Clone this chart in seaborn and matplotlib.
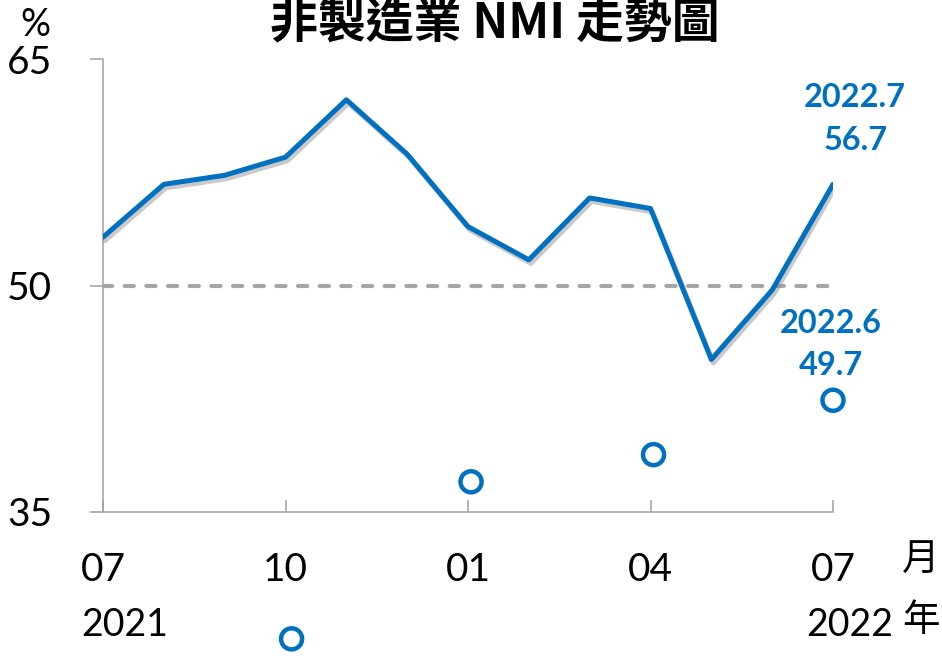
import matplotlib
matplotlib.use("Agg")
import matplotlib.pyplot as plt
import matplotlib.patheffects as pe
import seaborn as sns
import pandas as pd
import numpy as np

# ---- data ----
months = ["2021.07", "2021.08", "2021.09", "2021.10", "2021.11", "2021.12",
          "2022.01", "2022.02", "2022.03", "2022.04", "2022.05", "2022.06", "2022.07"]
nmi = [53.2, 56.7, 57.3, 58.5, 62.3, 58.7, 53.9, 51.7, 55.8, 55.1, 45.1, 49.7, 56.7]
tick_pos = [0, 3, 6, 9, 12]
tick_labels = ["07", "10", "01", "04", "07"]
year_labels = ["2021", "2022"]
circle_x = [3.1, 6.05, 9.05, 12.0]
circle_y = [26.6, 37.0, 38.8, 42.4]
threshold = 50
y_ticks = [35, 50, 65]
title = "非製造業 NMI 走勢圖"

df = pd.DataFrame({"idx": np.arange(len(months)), "NMI": nmi})
cdf = pd.DataFrame({"x": circle_x, "y": circle_y})

sns.set_theme(style="white")
plt.rcParams["font.family"] = ["Lato", "Noto Sans CJK TC", "DejaVu Sans"]
plt.rcParams["text.color"] = "black"

BLUE = "#0070C0"
GRAY = "#A6A6A6"
W, H = 942, 659
fig = plt.figure(figsize=(W / 100, H / 100), dpi=100)
ax = fig.add_axes([103 / W, 1 - 512 / H, (833 - 103) / W, (512 - 59) / H])

# threshold line
ax.axhline(threshold, color=GRAY, lw=3, dashes=(2.2, 3.0), dash_capstyle="round", zorder=1)

sns.lineplot(data=df, x="idx", y="NMI", ax=ax, color=BLUE, lw=3.6, zorder=3,
             path_effects=[pe.SimpleLineShadow(offset=(1.5, -2.5), shadow_color="#888888", alpha=0.45),
                           pe.Normal()])
sns.scatterplot(data=cdf, x="x", y="y", ax=ax, s=230, facecolor="none", edgecolor=BLUE,
                linewidth=3.2, clip_on=False, zorder=4)

ax.set_xlim(0, 12)
ax.set_ylim(35, 65)
ax.set_xlabel("")
ax.set_ylabel("")
ax.set_yticks(y_ticks)
ax.set_xticks(tick_pos)
ax.set_xticklabels(tick_labels)

for s in ["top", "right"]:
    ax.spines[s].set_visible(False)
for s in ["left", "bottom"]:
    ax.spines[s].set_color("#A0A0A0")
    ax.spines[s].set_linewidth(1.1)

ax.tick_params(axis="y", direction="out", length=9.5, width=1.1, color="#A0A0A0",
               pad=27, labelsize=28, labelcolor="black", left=True)
ax.tick_params(axis="x", direction="in", length=9, width=1.1, color="#A0A0A0",
               pad=29, labelsize=28, labelcolor="black", bottom=True)

# year labels
ax.annotate(year_labels[0], xy=(tick_pos[0], 0), xycoords=("data", "axes fraction"),
            xytext=(-16, -81), textcoords="offset points", ha="left", va="center",
            fontsize=27, color="black")
ax.annotate(year_labels[1], xy=(tick_pos[-1], 0), xycoords=("data", "axes fraction"),
            xytext=(-19.5, -81), textcoords="offset points", ha="left", va="center",
            fontsize=27, color="black")

# unit labels
fig.text(35 / W, 1 - 25 / H, "%", ha="center", va="center", fontsize=27, color="black")
fig.text(921 / W, 1 - 560 / H, "月", ha="center", va="center", fontsize=27, color="black",
         family=["Noto Sans CJK TC"])
fig.text(921 / W, 1 - 621 / H, "年", ha="center", va="center", fontsize=27, color="black",
         family=["Noto Sans CJK TC"])

# title
fig.text(495 / W, 1 - 38 / H, title, ha="center", va="baseline", fontsize=34.5, fontweight="bold",
         color="black", family=["Noto Sans CJK TC", "Lato"])

# data labels
last = len(nmi) - 1
ax.annotate(f"{months[last][:4]}.{int(months[last][5:])}\n{nmi[last]}", xy=(last, nmi[last]),
            xytext=(16, 47), textcoords="offset points", ha="center", va="center",
            fontsize=23.4, fontweight="bold", color=BLUE, linespacing=1.55)
prev = len(nmi) - 2
ax.annotate(f"{months[prev][:4]}.{int(months[prev][5:])}\n{nmi[prev]}", xy=(prev, nmi[prev]),
            xytext=(42, -39.5), textcoords="offset points", ha="center", va="center",
            fontsize=23.4, fontweight="bold", color=BLUE, linespacing=1.55)

fig.savefig("out.png", dpi=100)
